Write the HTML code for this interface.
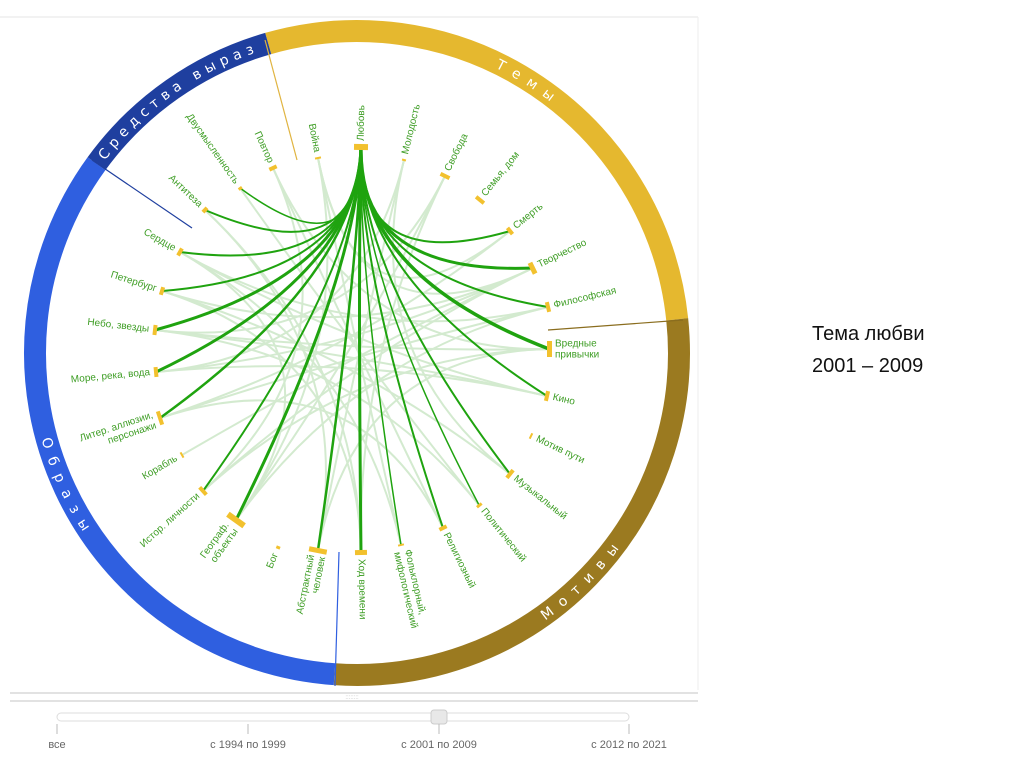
<!DOCTYPE html>
<html><head><meta charset="utf-8"><style>
body{margin:0;background:#fff;width:1024px;height:767px;overflow:hidden;font-family:"Liberation Sans",sans-serif}
svg{position:absolute;left:0;top:0}
.t{font-family:"Liberation Sans",sans-serif;font-size:10px;fill:#3f9e26}
.rl{font-family:"DejaVu Sans","Liberation Sans",sans-serif;font-size:14px;fill:#fff;letter-spacing:9px}
.m{fill:#f2c12e}
</style></head><body>
<svg width="1024" height="767" viewBox="0 0 1024 767">
<line x1="0" y1="17" x2="698" y2="17" stroke="#e4e4e4"/>
<line x1="698" y1="17" x2="698" y2="690" stroke="#eee"/>
<g fill="none" stroke-width="22">
<path d="M268.2,43.5 A322,322 0 0 1 677.2,319.3" stroke="#e5b82f"/>
<path d="M677.2,319.3 A322,322 0 0 1 334.5,674.2" stroke="#9b7a20"/>
<path d="M334.5,674.2 A322,322 0 0 1 96.5,163.7" stroke="#2f5fe0"/>
<path d="M96.5,163.7 A322,322 0 0 1 268.2,43.5" stroke="#1f3f9f"/>
</g>
<defs>
<path id="p1" d="M440.3,42 A322,322 0 0 1 603.7,146"/>
<path id="p2" d="M467.1,655.6 A322,322 0 0 0 659.6,463.1"/>
<path id="p3" d="M36.2,324.9 A322,322 0 0 0 172.3,616.8"/>
<path id="p4" d="M99.8,159.2 A322,322 0 0 1 268.2,43.5"/>
</defs>
<text class="rl"><textPath href="#p1" startOffset="50%" text-anchor="middle"><tspan dy="5">Темы</tspan></textPath></text>
<text class="rl"><textPath href="#p2" startOffset="50%" text-anchor="middle"><tspan dy="5">Мотивы</tspan></textPath></text>
<text class="rl"><textPath href="#p3" startOffset="50%" text-anchor="middle"><tspan dy="5">Образы</tspan></textPath></text>
<text class="rl" style="letter-spacing:5.5px"><textPath href="#p4" startOffset="2"><tspan dy="5">Средства выраз</tspan></textPath></text>
<line x1="265" y1="40" x2="297" y2="160" stroke="#e0b440" stroke-width="1.2"/>
<line x1="683" y1="320" x2="548" y2="330" stroke="#8a6d1e" stroke-width="1.2"/>
<line x1="92" y1="160" x2="192" y2="228" stroke="#1f3f9f" stroke-width="1.2"/>
<line x1="335" y1="686" x2="339" y2="552" stroke="#2f5fe0" stroke-width="1.2"/>
<g fill="none" stroke="#c9e6c4" stroke-width="2" opacity="0.8">
<path d="M318,158 Q357,353 533,268"/><path d="M318,158 Q357,353 236,520"/><path d="M318,158 Q357,353 401,545"/>
<path d="M273,168 Q357,353 443,528"/><path d="M273,168 Q357,353 549,349"/><path d="M273,168 Q357,353 203,491"/>
<path d="M404,160 Q357,353 156,372"/><path d="M404,160 Q357,353 318,550"/><path d="M404,160 Q357,353 510,474"/>
<path d="M445,176 Q357,353 155,330"/><path d="M445,176 Q357,353 236,520"/><path d="M445,176 Q357,353 361,553"/>
<path d="M510,231 Q357,353 160,418"/><path d="M533,268 Q357,353 162,291"/><path d="M533,268 Q357,353 203,491"/>
<path d="M548,307 Q357,353 180,252"/><path d="M548,307 Q357,353 236,520"/><path d="M549,349 Q357,353 155,330"/>
<path d="M549,349 Q357,353 318,550"/><path d="M547,396 Q357,353 156,372"/><path d="M547,396 Q357,353 180,252"/>
<path d="M510,474 Q357,353 162,291"/><path d="M479,505 Q357,353 155,330"/><path d="M443,528 Q357,353 160,418"/>
<path d="M401,545 Q357,353 180,252"/><path d="M361,553 Q357,353 162,291"/><path d="M361,553 Q357,353 205,210"/>
<path d="M318,550 Q357,353 205,210"/><path d="M236,520 Q357,353 180,252"/><path d="M182,455 Q357,353 533,268"/>
<path d="M203,491 Q357,353 549,349"/><path d="M160,418 Q357,353 548,307"/><path d="M156,372 Q357,353 533,268"/>
<path d="M155,330 Q357,353 547,396"/><path d="M240,188 Q357,353 479,505"/><path d="M318,158 Q357,353 510,231"/>
</g>
<g fill="none" stroke="#1fa30f">
<path d="M361,147 Q358,275 205,210" stroke-width="2"/>
<path d="M361,147 Q358,275 240,188" stroke-width="1.5"/>
<path d="M361,147 Q358,275 510,231" stroke-width="2"/>
<path d="M361,147 Q358,275 533,268" stroke-width="3"/>
<path d="M361,147 Q358,275 548,307" stroke-width="2"/>
<path d="M361,147 Q358,275 549,349" stroke-width="3.5"/>
<path d="M361,147 Q358,275 547,396" stroke-width="2"/>
<path d="M361,147 Q358,275 510,474" stroke-width="2"/>
<path d="M361,147 Q358,275 479,505" stroke-width="1.5"/>
<path d="M361,147 Q358,275 443,528" stroke-width="2"/>
<path d="M361,147 Q358,275 401,545" stroke-width="1.5"/>
<path d="M361,147 Q358,275 361,553" stroke-width="3"/>
<path d="M361,147 Q358,275 318,550" stroke-width="2.5"/>
<path d="M361,147 Q358,275 236,520" stroke-width="3"/>
<path d="M361,147 Q358,275 203,491" stroke-width="2"/>
<path d="M361,147 Q358,275 160,418" stroke-width="2.5"/>
<path d="M361,147 Q358,275 156,372" stroke-width="3"/>
<path d="M361,147 Q358,275 155,330" stroke-width="3"/>
<path d="M361,147 Q358,275 162,291" stroke-width="2"/>
<path d="M361,147 Q358,275 180,252" stroke-width="2"/>
</g>
<g class="t" dominant-baseline="central">
<g transform="translate(205,210) rotate(43.3)"><rect class="m" x="-2" y="-3" width="4" height="6"/><text x="-6" text-anchor="end">Антитеза</text></g>
<g transform="translate(240,188) rotate(54.7)"><rect class="m" x="-1" y="-2" width="3" height="4"/><text x="-6" text-anchor="end">Двусмысленность</text></g>
<g transform="translate(273,168) rotate(65.6)"><rect class="m" x="-2" y="-4" width="4" height="8"/><text x="-6" text-anchor="end">Повтор</text></g>
<g transform="translate(318,158) rotate(78.7)"><rect class="m" x="-1" y="-3" width="2" height="6"/><text x="-6" text-anchor="end">Война</text></g>
<g transform="translate(361,147) rotate(-88.9)"><rect class="m" x="-3" y="-7" width="6" height="14"/><text x="6">Любовь</text></g>
<g transform="translate(404,160) rotate(-76.3)"><rect class="m" x="-1" y="-2" width="2" height="4"/><text x="6">Молодость</text></g>
<g transform="translate(445,176) rotate(-63.6)"><rect class="m" x="-2" y="-5" width="4" height="10"/><text x="6">Свобода</text></g>
<g transform="translate(480,200) rotate(-51.2)"><rect class="m" x="-2" y="-5" width="4" height="10"/><text x="6">Семья, дом</text></g>
<g transform="translate(510,231) rotate(-38.6)"><rect class="m" x="-2" y="-4" width="4" height="8"/><text x="6">Смерть</text></g>
<g transform="translate(533,268) rotate(-25.8)"><rect class="m" x="-3" y="-6" width="5" height="12"/><text x="6">Творчество</text></g>
<g transform="translate(548,307) rotate(-13.5)"><rect class="m" x="-2" y="-5" width="4" height="10"/><text x="6">Философская</text></g>
<g transform="translate(549,349)"><rect class="m" x="-2" y="-8" width="5" height="16"/><text x="6" y="-5">Вредные</text><text x="6" y="6">привычки</text></g>
<g transform="translate(547,396) rotate(12.8)"><rect class="m" x="-2" y="-5" width="4" height="10"/><text x="6">Кино</text></g>
<g transform="translate(531,436) rotate(25.5)"><rect class="m" x="-1" y="-3" width="2" height="6"/><text x="6">Мотив пути</text></g>
<g transform="translate(510,474) rotate(38.3)"><rect class="m" x="-2" y="-5" width="4" height="10"/><text x="6">Музыкальный</text></g>
<g transform="translate(479,505) rotate(51.3)"><rect class="m" x="-1" y="-3" width="3" height="6"/><text x="6">Политический</text></g>
<g transform="translate(443,528) rotate(63.8)"><rect class="m" x="-2" y="-4" width="4" height="8"/><text x="6">Религиозный</text></g>
<g transform="translate(401,545) rotate(77.1)"><rect class="m" x="-1" y="-3" width="2" height="6"/><text x="6" y="-5">Фольклорный,</text><text x="6" y="6">мифологический</text></g>
<g transform="translate(361,553) rotate(88.9)"><rect class="m" x="-3" y="-6" width="5" height="12"/><text x="6">Ход времени</text></g>
<g transform="translate(318,550) rotate(-78.8)"><rect class="m" x="-3" y="-9" width="5" height="18"/><text x="-6" y="-5" text-anchor="end">Абстрактный</text><text x="-6" y="6" text-anchor="end">человек</text></g>
<g transform="translate(278,548) rotate(-68)"><rect class="m" x="-1" y="-2" width="3" height="4"/><text x="-6" text-anchor="end">Бог</text></g>
<g transform="translate(236,520) rotate(-54.1)"><rect class="m" x="-3" y="-10" width="6" height="20"/><text x="-8" y="-5" text-anchor="end">Географ.</text><text x="-8" y="6" text-anchor="end">объекты</text></g>
<g transform="translate(203,491) rotate(-41.9)"><rect class="m" x="-2" y="-5" width="4" height="10"/><text x="-6" text-anchor="end">Истор. личности</text></g>
<g transform="translate(182,455) rotate(-30.2)"><rect class="m" x="-1" y="-3" width="2" height="6"/><text x="-6" text-anchor="end">Корабль</text></g>
<g transform="translate(160,418) rotate(-18.3)"><rect class="m" x="-2" y="-7" width="4" height="14"/><text x="-6" y="-5" text-anchor="end">Литер. аллюзии,</text><text x="-6" y="6" text-anchor="end">персонажи</text></g>
<g transform="translate(156,372) rotate(-5.4)"><rect class="m" x="-2" y="-5" width="4" height="10"/><text x="-6" text-anchor="end">Море, река, вода</text></g>
<g transform="translate(155,330) rotate(6.5)"><rect class="m" x="-2" y="-5" width="4" height="10"/><text x="-6" text-anchor="end">Небо, звезды</text></g>
<g transform="translate(162,291) rotate(17.6)"><rect class="m" x="-2" y="-4" width="4" height="8"/><text x="-6" text-anchor="end">Петербург</text></g>
<g transform="translate(180,252) rotate(29.7)"><rect class="m" x="-2" y="-4" width="4" height="8"/><text x="-6" text-anchor="end">Сердце</text></g>
</g>
<line x1="10" y1="693" x2="698" y2="693" stroke="#d8d8d8" stroke-width="1.5"/>
<line x1="10" y1="701" x2="698" y2="701" stroke="#d8d8d8" stroke-width="1.5"/>
<text x="352" y="699" font-size="6" fill="#bbb" text-anchor="middle" font-family="Liberation Sans">::::::::</text>
<rect x="57" y="713" width="572" height="8" rx="4" fill="#fff" stroke="#ddd"/>
<rect x="431" y="710" width="16" height="14" rx="3" fill="#e8e8e8" stroke="#ccc"/>
<g stroke="#bbb"><line x1="57" y1="724" x2="57" y2="734"/><line x1="248" y1="724" x2="248" y2="734"/><line x1="439" y1="724" x2="439" y2="734"/><line x1="629" y1="724" x2="629" y2="734"/></g>
<g font-family="Liberation Sans" font-size="11" fill="#666" text-anchor="middle">
<text x="57" y="748">все</text><text x="248" y="748">с 1994 по 1999</text><text x="439" y="748">с 2001 по 2009</text><text x="629" y="748">с 2012 по 2021</text>
</g>
<g font-family="Liberation Sans" font-size="20" fill="#111">
<text x="812" y="340">Тема любви</text><text x="812" y="372">2001 – 2009</text>
</g>
</svg>
</body></html>
